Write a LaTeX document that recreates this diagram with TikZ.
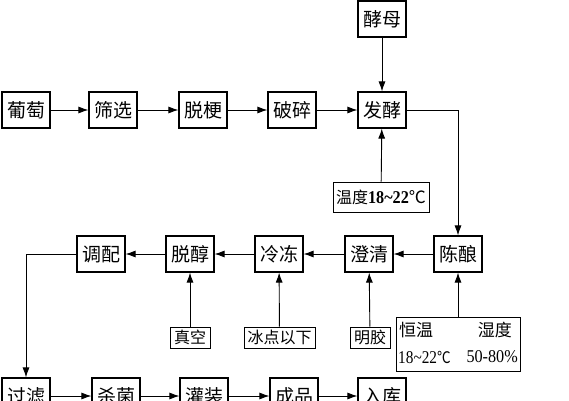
\documentclass[tikz,border=0pt]{standalone}
\usepackage{fontspec}
\setmainfont{Liberation Serif}
\newfontfamily\cjk{Noto Sans CJK SC}
\usetikzlibrary{arrows.meta}
\newcommand{\tl}{\textasciitilde}
\begin{document}
\begin{tikzpicture}[x=1pt,y=-1pt,
  proc/.style={draw,line width=1.1pt,minimum width=48pt,minimum height=36pt,inner sep=0pt,font=\cjk\fontsize{19}{19}\selectfont},
  cond/.style={draw,line width=1pt,minimum height=21pt,inner sep=2pt,font=\cjk\fontsize{16}{16}\selectfont},
  flow/.style={line width=0.9pt,-{Latex[length=10pt,width=7pt]}}]
\useasboundingbox (0,0) rectangle (569,400);
\clip (0,0) rectangle (569,400);
% top row
\node[proc] (pt) at (26,110) {葡萄};
\node[proc] (sx) at (113,110) {筛选};
\node[proc] (tg) at (203,110) {脱梗};
\node[proc] (ps) at (292,110) {破碎};
\node[proc] (fj) at (382,110) {发酵};
\node[proc] (jm) at (382,19) {酵母};
\node[cond,minimum width=96pt,minimum height=30pt] (wd) at (381,197) {温度{\rmfamily\fontsize{18}{18}\selectfont\bfseries\scalebox{0.9}[1]{18\tl22}}\fontsize{17}{17}\selectfont℃};
% middle row
\node[proc] (tp) at (101,254) {调配};
\node[proc] (tc) at (190,254) {脱醇};
\node[proc] (ld) at (279,254) {冷冻};
\node[proc] (cq) at (369,254) {澄清};
\node[proc] (cn) at (458,254) {陈酿};
% conditions
\node[cond,minimum width=40pt] (zk) at (190,337.5) {真空};
\node[cond,minimum width=71pt] (bd) at (279.5,337.5) {冰点以下};
\node[cond,minimum width=40pt] (mj) at (370,337.5) {明胶};
\node[draw,line width=1pt,minimum width=124pt,minimum height=54pt,inner sep=0pt] (hw) at (458,344) {};
\node[font=\cjk\fontsize{17}{17}\selectfont,anchor=west,inner sep=0pt] (hw1) at (399,330) {恒温};
\node[font=\cjk\fontsize{17}{17}\selectfont,anchor=east,inner sep=0pt] (sd1) at (512,330) {湿度};
\node[font=\fontsize{18}{18}\selectfont,anchor=west,inner sep=0pt] (hw2) at (398,357) {\scalebox{0.85}[1]{18\tl22{\cjk\fontsize{16}{16}\selectfont℃}}};
\node[font=\fontsize{18}{18}\selectfont,anchor=east,inner sep=0pt] (sd2) at (518,357) {\scalebox{0.9}[1]{50-80\%}};
% bottom row
\node[proc] (gl) at (26,396) {过滤};
\node[proc] (sj) at (116,396) {杀菌};
\node[proc] (gz) at (204,396) {灌装};
\node[proc] (cp) at (294,396) {成品};
\node[proc] (rk) at (382,396) {入库};
% connectors
\draw[flow] (pt) -- (sx);
\draw[flow] (sx) -- (tg);
\draw[flow] (tg) -- (ps);
\draw[flow] (ps) -- (fj);
\draw[flow] (jm) -- (fj);
\draw[flow] (wd) -- (fj);
\draw[flow] (fj.east) -| (cn.north);
\draw[flow] (cn) -- (cq);
\draw[flow] (cq) -- (ld);
\draw[flow] (ld) -- (tc);
\draw[flow] (tc) -- (tp);
\draw[flow] (zk) -- (tc);
\draw[flow] (bd) -- (ld);
\draw[flow] (mj) -- (cq);
\draw[flow] (hw) -- (cn);
\draw[flow] (tp.west) -| (gl.north);
\draw[flow] (gl) -- (sj);
\draw[flow] (sj) -- (gz);
\draw[flow] (gz) -- (cp);
\draw[flow] (cp) -- (rk);
\end{tikzpicture}
\end{document}
